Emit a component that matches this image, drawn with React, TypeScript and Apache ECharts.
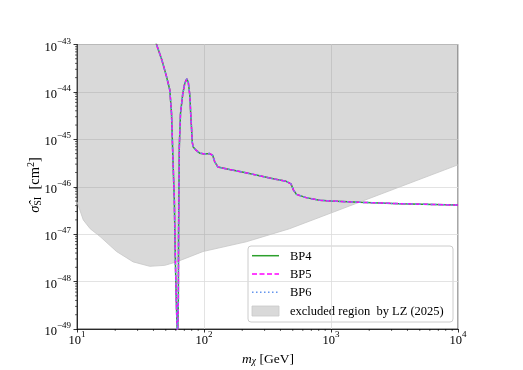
import React, { useEffect, useRef } from 'react';
import * as echarts from 'echarts';

// Benchmark curves (mass in GeV, sigma in cm^2)
const bpMass = [38.8, 42.3, 46.6, 50.7, 53.8, 55.5, 57.1, 58.4, 59.5, 60.5, 61.9, 62.8, 63.1, 63.9, 65.3, 68.0, 70.5, 73.2, 75.2, 77.3, 78.7, 79.7, 80.8, 82.2, 86.0, 92.5, 101.4, 110.9, 117.0, 121.3, 128.8, 159.2, 208.9, 274.0, 359, 443.6, 484, 507, 535, 637, 811, 1002, 1672, 3444, 10000];
const bp4Sigma = [2.0e-43, 1.0e-43, 4.7e-44, 2.1e-44, 1.1e-44, 3.5e-45, 3.1e-46, 5.2e-47, 2.8e-48, 4.1e-49, 5e-50, 4.1e-49, 1.2e-47, 6.9e-46, 3.5e-45, 9e-45, 1.5e-44, 1.9e-44, 1.6e-44, 8.6e-45, 3.2e-45, 1.8e-45, 8.7e-46, 6.9e-46, 6.0e-46, 5.1e-46, 4.9e-46, 5.0e-46, 4.6e-46, 3.4e-46, 2.6e-46, 2.3e-46, 2.0e-46, 1.7e-46, 1.45e-46, 1.3e-46, 1.15e-46, 8.5e-47, 6.9e-47, 5.9e-47, 5.2e-47, 5.0e-47, 4.7e-47, 4.4e-47, 4.1e-47];
const bp5Sigma = bp4Sigma.slice();
const bp6Sigma = bp4Sigma.slice();

// LZ (2025) exclusion boundary
const lzMass = [10, 11.2, 12.7, 15.2, 20.5, 27.7, 37.4, 49.1, 60.7, 98.2, 215, 471, 10000];
const lzSigma = [4.8e-47, 2.0e-47, 1.3e-47, 8.9e-48, 4.3e-48, 2.6e-48, 2.1e-48, 2.2e-48, 2.6e-48, 4.3e-48, 6.9e-48, 1.3e-47, 2.9e-46];

const xRange = [10, 10000];
// y axis drawn in decades (exponent of 10): 10^-49 .. 10^-43
const yExpRange = [-49, -43];

const legendLabels = ['BP4', 'BP5', 'BP6', 'excluded region  by LZ (2025)'];
const xTitle = '{i|m}{sub|χ} [GeV]';
const yTitle = '{i|σ̂}{sub|SI}  [cm{sup|2}]';

const FONT = "'Liberation Serif', 'DejaVu Serif', serif";

const minorX: number[] = [];
[1, 2, 3].forEach((e) => { for (let k = 2; k <= 9; k++) minorX.push(Number(`${k}e${e}`)); });
const minorY: number[] = [];
[-49, -48, -47, -46, -45, -44].forEach((e) => { for (let k = 2; k <= 9; k++) minorY.push(Number(`${k}e${e}`)); });

const supRich = {
  b: { fontSize: 12.5, fontFamily: FONT, color: '#000', lineHeight: 17, verticalAlign: 'bottom' },
  s: { fontSize: 9, fontFamily: FONT, color: '#000', lineHeight: 8, verticalAlign: 'top' },
};
const expLabel = (e: number) => `{b|10}{s|${e < 0 ? '\u2212' + (-e) : e}}`;

export default function App() {
  const ref = useRef<HTMLDivElement>(null);
  useEffect(() => {
    if (!ref.current) return;
    const chart = echarts.init(ref.current, null, { renderer: 'svg' });
    const zipLog = (xs: number[], ys: number[]) => xs.map((x, i) => [x, Math.log10(ys[i])]);
    const legendX = 248, legendY = 246;
    const rowY = [255.7, 274, 292.3, 311];
    const axisLine = { onZero: false, lineStyle: { color: '#000', width: 0.8 } };
    const splitLine = { show: true, lineStyle: { color: '#dcdcdc', width: 0.8 } };
    const axisTick = { show: true, length: 3.5, lineStyle: { color: '#000', width: 0.8 } };
    chart.setOption({
      animation: false,
      grid: { left: 77, right: 65, top: 44.5, bottom: 41, show: true, borderColor: '#222', borderWidth: 0.8, backgroundColor: 'transparent', containLabel: false, outerBoundsMode: 'none' },
      xAxis: {
        type: 'log', logBase: 10, min: xRange[0], max: xRange[1], position: 'bottom', axisLine, splitLine, axisTick,
        axisLabel: { formatter: (v: number) => expLabel(Math.round(Math.log10(v))), rich: supRich, margin: 0, showMinLabel: true, showMaxLabel: true, hideOverlap: false },
      },
      yAxis: {
        type: 'value', min: yExpRange[0], max: yExpRange[1], interval: 1, position: 'left', axisLine, splitLine, axisTick,
        axisLabel: { formatter: (v: number) => expLabel(Math.round(v)), rich: supRich, margin: 6, showMinLabel: true, showMaxLabel: true, hideOverlap: false },
      },
      series: [
        {
          name: legendLabels[3] + ' area', type: 'custom', coordinateSystem: 'cartesian2d',
          data: zipLog(lzMass, lzSigma), clip: true, silent: true, z: 1,
          renderItem: (params: any, api: any) => {
            if (params.dataIndex !== 0) return null;
            const pts = lzMass.map((m, i) => api.coord([m, Math.log10(lzSigma[i])]));
            pts.push(api.coord([xRange[1], yExpRange[1]]));
            pts.push(api.coord([xRange[0], yExpRange[1]]));
            return { type: 'polygon', shape: { points: pts }, style: { fill: 'rgba(122,122,122,0.286)' } };
          },
        },
        {
          name: legendLabels[3], type: 'line', data: zipLog(lzMass, lzSigma), showSymbol: false, symbol: 'none',
          lineStyle: { color: '#c6c6c6', width: 0.8 }, z: 2,
        },
        {
          name: legendLabels[0], type: 'line', data: zipLog(bpMass, bp4Sigma), showSymbol: false, symbol: 'none',
          lineStyle: { color: '#2ca02c', width: 1.5, type: 'solid' }, clip: true, z: 3,
        },
        {
          name: legendLabels[1], type: 'line', data: zipLog(bpMass, bp5Sigma), showSymbol: false, symbol: 'none',
          lineStyle: { color: '#ff00ff', width: 1.5, type: [5, 2.5] }, clip: true, z: 4,
        },
        {
          name: legendLabels[2], type: 'line', data: zipLog(bpMass, bp6Sigma), showSymbol: false, symbol: 'none',
          lineStyle: { color: '#6495ed', width: 1.5, type: [1.5, 2.5] }, clip: true, z: 5,
        },
        {
          name: 'minor x ticks', type: 'custom', coordinateSystem: 'cartesian2d', clip: false, silent: true, z: 6,
          data: minorX.map((v) => [v, yExpRange[0]]),
          renderItem: (params: any, api: any) => {
            const p = api.coord([api.value(0), yExpRange[0]]);
            return { type: 'line', shape: { x1: p[0], y1: p[1], x2: p[0], y2: p[1] + 2 }, style: { stroke: '#000', lineWidth: 0.6 } };
          },
        },
        {
          name: 'minor y ticks', type: 'custom', coordinateSystem: 'cartesian2d', clip: false, silent: true, z: 6,
          data: minorY.map((v) => [xRange[0], Math.log10(v)]),
          renderItem: (params: any, api: any) => {
            const p = api.coord([xRange[0], api.value(1)]);
            return { type: 'line', shape: { x1: p[0] - 2, y1: p[1], x2: p[0], y2: p[1] }, style: { stroke: '#000', lineWidth: 0.6 } };
          },
        },
      ],
      graphic: [
        {
          type: 'text', x: 268, y: 358, z: 100,
          style: {
            text: xTitle, align: 'center', verticalAlign: 'middle', fontSize: 13.5, fontFamily: FONT, fill: '#000',
            rich: {
              i: { fontSize: 13.5, fontFamily: FONT, fontStyle: 'italic', fill: '#000' },
              sub: { fontSize: 9.5, fontFamily: FONT, fontStyle: 'italic', fill: '#000', padding: [6, 0, 0, 0] },
            },
          },
        },
        {
          type: 'text', x: 34, y: 185, rotation: Math.PI / 2, z: 100,
          style: {
            text: yTitle, align: 'center', verticalAlign: 'middle', fontSize: 14.5, fontFamily: FONT, fill: '#000',
            rich: {
              i: { fontSize: 14.5, fontFamily: FONT, fontStyle: 'italic', fill: '#000' },
              sub: { fontSize: 10, fontFamily: FONT, fill: '#000', padding: [7, 0, 0, 0] },
              sup: { fontSize: 10, fontFamily: FONT, fill: '#000', padding: [0, 0, 8, 0] },
            },
          },
        },
        {
          type: 'group', z: 100,
          children: [
            { type: 'rect', shape: { x: legendX, y: legendY, width: 205, height: 76, r: 3 }, style: { fill: 'rgba(255,255,255,0.8)', stroke: '#cccccc', lineWidth: 1 } },
            { type: 'line', shape: { x1: 252, y1: rowY[0], x2: 279, y2: rowY[0] }, style: { stroke: '#2ca02c', lineWidth: 1.5 } },
            { type: 'line', shape: { x1: 252, y1: rowY[1], x2: 279, y2: rowY[1] }, style: { stroke: '#ff00ff', lineWidth: 1.5, lineDash: [5, 2.5] } },
            { type: 'line', shape: { x1: 252, y1: rowY[2], x2: 279, y2: rowY[2] }, style: { stroke: '#6495ed', lineWidth: 1.5, lineDash: [1.5, 2.5] } },
            { type: 'rect', shape: { x: 252, y: 306, width: 27, height: 10 }, style: { fill: '#d9d9d9', stroke: '#c9c9c9', lineWidth: 0.8 } },
            ...legendLabels.map((t, i) => ({
              type: 'text', x: 290, y: rowY[i],
              style: { text: t, fontSize: 12.5, fontFamily: FONT, fill: '#000', verticalAlign: 'middle', align: 'left' },
            })),
          ],
        },
      ],
    });
    return () => chart.dispose();
  }, []);
  return <div ref={ref} style={{ position: 'fixed', left: 0, top: 0, width: 523, height: 370 }} />;
}
